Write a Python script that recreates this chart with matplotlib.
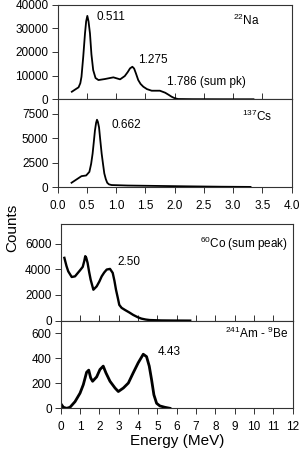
import numpy as np
import matplotlib
matplotlib.use('Agg')
import matplotlib.pyplot as plt

plt.rcParams['font.family'] = ['Liberation Sans', 'DejaVu Sans']
plt.rcParams['mathtext.fontset'] = 'custom'
plt.rcParams['mathtext.rm'] = 'Liberation Sans'
plt.rcParams['mathtext.default'] = 'regular'

# 22Na spectrum (energy in MeV, counts)
na_e = [0.245, 0.30, 0.36, 0.39, 0.41, 0.44, 0.47, 0.49, 0.51, 0.53, 0.555, 0.58,
        0.61, 0.65, 0.70, 0.81, 0.955, 1.07, 1.15, 1.20, 1.24, 1.28, 1.31, 1.34,
        1.38, 1.42, 1.467, 1.53, 1.61, 1.75, 1.84, 1.90, 1.95, 2.00, 2.06, 2.3,
        2.8, 3.35]
na_c = [3200, 4100, 5060, 6800, 9540, 18000, 27850, 33000, 35270, 33000, 27850,
        19000, 12360, 9000, 8140, 8570, 9280, 8440, 9830, 11500, 13080, 13760,
        13000, 11000, 8140, 6500, 5320, 4300, 3630, 3630, 2790, 1900, 1100, 500,
        130, 60, 30, 20]

# 137Cs spectrum
cs_e = [0.24, 0.41, 0.49, 0.545, 0.575, 0.60, 0.62, 0.64, 0.66, 0.675, 0.69, 0.71,
        0.73, 0.755, 0.78, 0.80, 0.825, 0.85, 0.88, 0.925, 1.2, 1.58, 2.2, 2.8, 3.3]
cs_c = [465, 1140, 1210, 1580, 2400, 3440, 4600, 5800, 6600, 6910, 6700, 6130,
        4900, 3440, 2300, 1420, 850, 465, 300, 230, 180, 150, 100, 60, 40]

# 60Co spectrum
co_e = [0.19, 0.30, 0.39, 0.57, 0.74, 1.0, 1.14, 1.22, 1.27, 1.32, 1.39, 1.47, 1.55,
        1.69, 1.86, 2.0, 2.12, 2.25, 2.38, 2.55, 2.69, 2.78, 2.86, 2.95, 3.03, 3.15,
        3.32, 3.55, 3.75, 4.0, 4.18, 4.4, 4.61, 5.2, 6.0, 6.7]
co_c = [4890, 4250, 3840, 3400, 3450, 3920, 4190, 4650, 5020, 4900, 4500, 3800,
        3190, 2410, 2670, 3050, 3450, 3750, 3980, 4030, 3720, 3100, 2410, 1800,
        1230, 1000, 840, 640, 450, 260, 160, 90, 50, 20, 10, 5]

# 241Am-9Be spectrum
am_e = [0.05, 0.14, 0.31, 0.48, 0.74, 1.0, 1.17, 1.34, 1.45, 1.55, 1.65, 1.86, 2.03,
        2.20, 2.34, 2.55, 2.81, 2.98, 3.24, 3.5, 3.75, 4.01, 4.27, 4.44, 4.58, 4.70,
        4.82, 4.96, 5.13, 5.39, 5.65]
am_c = [27, 8, 0, 8, 53, 121, 189, 288, 305, 243, 216, 251, 310, 337, 283, 216, 162,
        134, 162, 202, 283, 364, 432, 413, 337, 229, 108, 40, 19, 8, 0]

fig = plt.figure(figsize=(3.0, 4.57), dpi=100)
W, H = 300.0, 457.0

def box(l, r, t, b):
    return [l / W, 1 - b / H, (r - l) / W, (b - t) / H]

ax_na = fig.add_axes(box(57.5, 291.5, 4.7, 99.3))
ax_cs = fig.add_axes(box(57.5, 291.5, 99.3, 187.3))
ax_co = fig.add_axes(box(60.7, 292.7, 224.3, 320.7))
ax_am = fig.add_axes(box(60.7, 292.7, 320.7, 408.3))

spine_col = '#333333'
for ax in (ax_na, ax_cs, ax_co, ax_am):
    for s in ax.spines.values():
        s.set_color(spine_col)
        s.set_linewidth(0.8)
    ax.tick_params(axis='y', direction='out', length=4, width=0.7, pad=2.5,
                   labelsize=8.5, color=spine_col)
    ax.tick_params(axis='x', labelsize=8.5, color=spine_col, width=0.7)

ax_na.plot(na_e, na_c, color='black', lw=1.3)
ax_cs.plot(cs_e, cs_c, color='black', lw=1.3)
ax_co.plot(co_e, co_c, color='black', lw=1.7)
ax_am.plot(am_e, am_c, color='black', lw=2.0)

for ax in (ax_na, ax_cs):
    ax.set_xlim(0, 4)
    ax.set_xticks(np.arange(0, 4.01, 0.5))
for ax in (ax_co, ax_am):
    ax.set_xlim(0, 12)
    ax.set_xticks(np.arange(0, 13, 1))

ax_na.set_ylim(0, 40000)
ax_na.set_yticks([0, 10000, 20000, 30000, 40000])
ax_cs.set_ylim(0, 9000)
ax_cs.set_yticks([0, 2500, 5000, 7500])
ax_co.set_ylim(0, 7500)
ax_co.set_yticks([0, 2000, 4000, 6000])
ax_am.set_ylim(0, 700)
ax_am.set_yticks([0, 200, 400, 600])

ax_na.tick_params(axis='x', direction='inout', length=9, labelbottom=False)
ax_co.tick_params(axis='x', direction='inout', length=9, labelbottom=False)
ax_cs.tick_params(axis='x', direction='out', length=4, pad=5)
ax_am.tick_params(axis='x', direction='out', length=4, pad=5)
ax_cs.set_xticklabels(['%.1f' % v for v in np.arange(0, 4.01, 0.5)])

fs = 8.5
ax_na.text(0.675, 34800, '0.511', fontsize=fs, va='center')
ax_na.text(1.376, 16600, '1.275', fontsize=fs, va='center')
ax_na.text(1.872, 7300, '1.786 (sum pk)', fontsize=fs, va='center')
ax_na.text(3.46, 33500, r'$^{22}$Na', fontsize=fs, va='center', ha='right')

ax_cs.text(0.915, 6400, '0.662', fontsize=fs, va='center')
ax_cs.text(3.67, 7300, r'$^{137}$Cs', fontsize=fs, va='center', ha='right')

ax_co.text(2.92, 4560, '2.50', fontsize=fs, va='center')
ax_co.text(11.76, 5950, r'$^{60}$Co (sum peak)', fontsize=fs, va='center', ha='right')

ax_am.text(5.04, 448, '4.43', fontsize=fs, va='center')
ax_am.text(11.76, 600, r'$^{241}$Am - $^{9}$Be', fontsize=fs, va='center', ha='right')

fig.text(12 / W, 1 - 228 / H, 'Counts', rotation=90, fontsize=11,
         ha='center', va='center')
fig.text(177 / W, 1 - 441 / H, 'Energy (MeV)', fontsize=11,
         ha='center', va='center')

fig.savefig('out.png', dpi=100)
